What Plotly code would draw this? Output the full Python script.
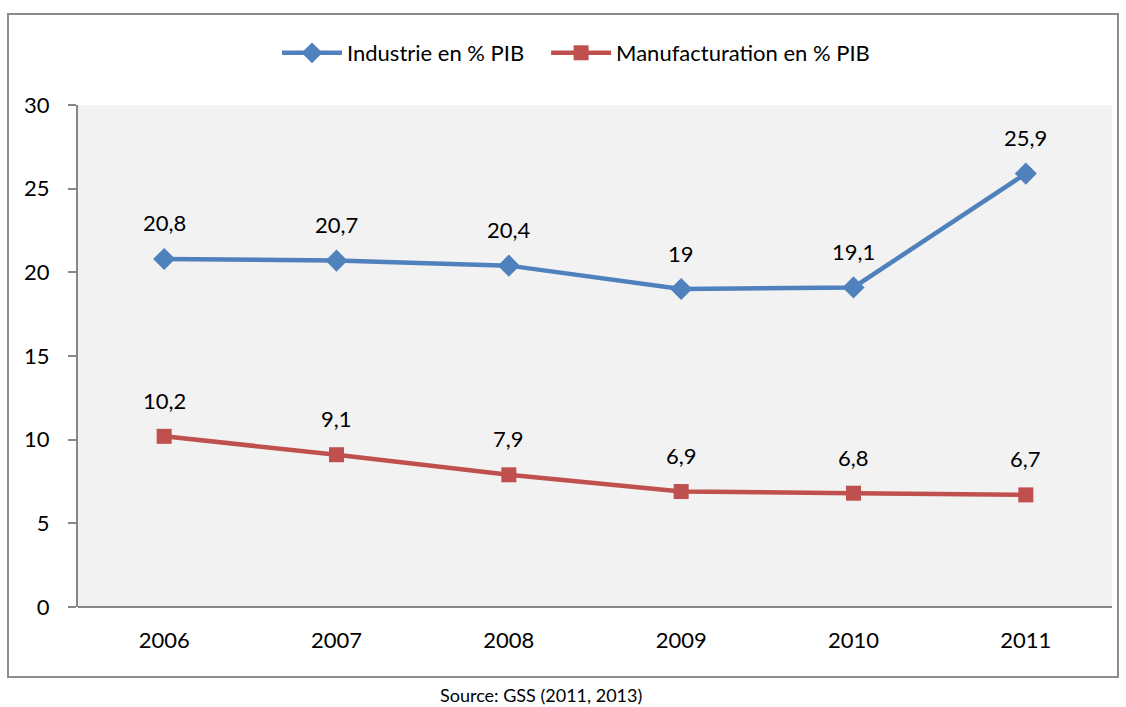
import plotly.graph_objects as go

years = ["2006", "2007", "2008", "2009", "2010", "2011"]
industrie = [20.8, 20.7, 20.4, 19.0, 19.1, 25.9]
manufacturation = [10.2, 9.1, 7.9, 6.9, 6.8, 6.7]
y_ticks = [0, 5, 10, 15, 20, 25, 30]

BLUE = "#4F81BD"
RED = "#C0504D"
FONT = "Lato, 'Open Sans', sans-serif"
FS = 22


def fmt(v):
    s = f"{v:.1f}".rstrip("0").rstrip(".")
    return s.replace(".", ",")


W, H = 1126, 707
L, R, T, B = 78, 14, 105, 100
pw, ph = W - L - R, H - T - B


def px(x):
    return (x - L) / pw


def py(y):
    return (H - B - y) / ph


fig = go.Figure()
fig.add_trace(go.Scatter(
    x=years, y=industrie, name="Industrie en % PIB   ", mode="lines+markers",
    line=dict(color=BLUE, width=4.5),
    marker=dict(symbol="diamond", size=17, color=BLUE),
))
fig.add_trace(go.Scatter(
    x=years, y=manufacturation, name="Manufacturation en % PIB", mode="lines+markers",
    line=dict(color=RED, width=4.5),
    marker=dict(symbol="square", size=15, color=RED),
))

annotations = []
for series in (industrie, manufacturation):
    for i, v in enumerate(series):
        annotations.append(dict(
            x=i, y=v, xref="x", yref="y", text=fmt(v), showarrow=False, yshift=36,
            font=dict(size=FS, color="#000000", family=FONT),
        ))
annotations.append(dict(
    x=px(541), y=py(695), xref="paper", yref="paper", yanchor="middle",
    text="Source: GSS (2011, 2013)", showarrow=False,
    font=dict(size=18, color="#000000", family=FONT),
))

fig.update_layout(
    width=W, height=H,
    margin=dict(l=L, r=R, t=T, b=B),
    paper_bgcolor="white", plot_bgcolor="#F2F2F2",
    font=dict(family=FONT, size=FS, color="#000000"),
    showlegend=True,
    legend=dict(orientation="h", x=px(576), xanchor="center", y=py(53), yanchor="middle",
                font=dict(size=FS), tracegroupgap=0, itemwidth=60),
    xaxis=dict(type="category", range=[-0.5, 5.5], showgrid=False, zeroline=False,
               showline=False, ticks="", tickfont=dict(size=FS), ticklabelstandoff=18),
    yaxis=dict(range=[0, 30], tickvals=y_ticks, showgrid=False, zeroline=False,
               showline=True, linecolor="#868686", linewidth=2, ticks="outside",
               ticklen=8, tickcolor="#868686", tickwidth=2, tickfont=dict(size=FS),
               ticklabelstandoff=14),
    annotations=annotations,
    shapes=[
        dict(type="line", xref="paper", yref="paper", x0=0, x1=1, y0=0, y1=0,
             line=dict(color="#868686", width=2)),
        dict(type="rect", xref="paper", yref="paper", x0=px(8), x1=px(1118),
             y0=py(677), y1=py(14), line=dict(color="#8C8C8C", width=2),
             fillcolor="rgba(0,0,0,0)", layer="below"),
    ],
)

fig.write_html("out.html")
